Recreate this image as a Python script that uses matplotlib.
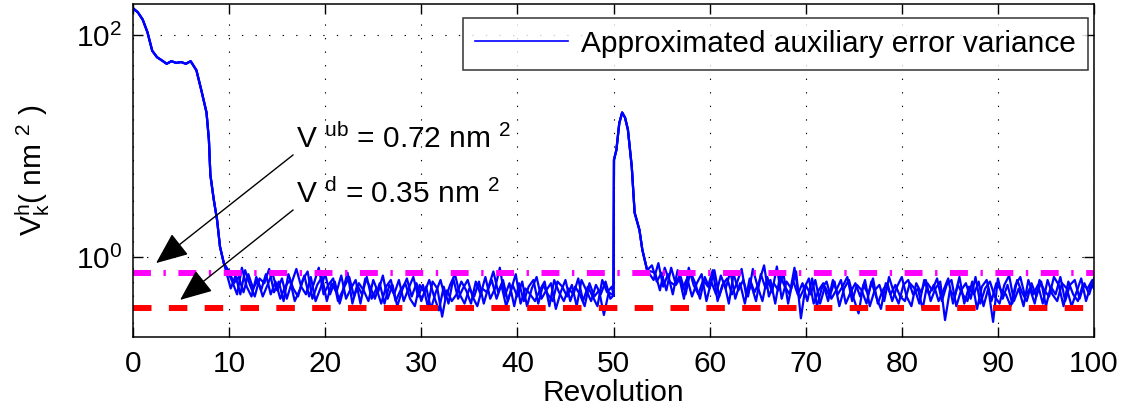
import numpy as np
import matplotlib
matplotlib.use("Agg")
import matplotlib.pyplot as plt
from matplotlib.ticker import NullLocator

FS = 21.5
plt.rcParams['font.family'] = ['Liberation Sans', 'DejaVu Sans']
plt.rcParams['mathtext.fontset'] = 'custom'
plt.rcParams['mathtext.rm'] = 'Liberation Sans'
plt.rcParams['mathtext.it'] = 'Liberation Sans:italic'

# start-up transient (shared by all runs)
rev_start = [0, 0.5, 1.0, 1.5, 2.0, 2.5, 3.0, 3.5, 4.0, 4.5, 5.0, 5.5, 6.0, 6.6, 7.1,
             7.65, 7.9, 8.05, 8.4, 8.75, 9.05, 9.45]
var_start = [174, 160, 138, 106, 72, 63, 59, 55, 58, 56, 57, 55, 58, 48, 32,
             20, 11.3, 5.5, 3.3, 2.15, 1.24, 0.88]

# steady part up to revolution 50, three overlaid runs on staggered grids
rev_mid_1 = np.arange(10.0, 50, 0.5)
rev_mid_2 = np.arange(10.17, 50, 0.5)
rev_mid_3 = np.arange(10.33, 50, 0.5)
var_mid_1 = [0.74, 0.58, 0.66, 0.48, 0.70, 0.52, 0.62, 0.44, 0.56, 0.72,
             0.50, 0.64, 0.42, 0.58, 0.78, 0.54, 0.46, 0.66, 0.40, 0.52,
             0.70, 0.46, 0.60, 0.38, 0.54, 0.66, 0.44, 0.58, 0.50, 0.40,
             0.62, 0.48, 0.68, 0.42, 0.56, 0.36, 0.50, 0.64, 0.44, 0.58,
             0.40, 0.54, 0.34, 0.48, 0.62, 0.42, 0.56, 0.70, 0.46, 0.38,
             0.52, 0.44, 0.60, 0.38, 0.54, 0.74, 0.48, 0.62, 0.40, 0.56,
             0.44, 0.60, 0.36, 0.52, 0.66, 0.42, 0.50, 0.58, 0.34, 0.48,
             0.62, 0.40, 0.54, 0.46, 0.36, 0.58, 0.44, 0.50, 0.30, 0.48]
var_mid_2 = [0.52, 0.68, 0.46, 0.76, 0.56, 0.44, 0.64, 0.58, 0.78, 0.48,
             0.60, 0.40, 0.70, 0.52, 0.44, 0.62, 0.74, 0.42, 0.56, 0.66,
             0.40, 0.58, 0.48, 0.68, 0.42, 0.52, 0.62, 0.38, 0.64, 0.54,
             0.42, 0.58, 0.38, 0.56, 0.46, 0.62, 0.40, 0.52, 0.66, 0.44,
             0.56, 0.36, 0.60, 0.52, 0.29, 0.50, 0.40, 0.46, 0.60, 0.50,
             0.38, 0.60, 0.46, 0.66, 0.42, 0.52, 0.80, 0.44, 0.58, 0.36,
             0.58, 0.40, 0.54, 0.62, 0.38, 0.56, 0.46, 0.40, 0.60, 0.54,
             0.44, 0.56, 0.36, 0.62, 0.50, 0.40, 0.56, 0.46, 0.60, 0.42]
var_mid_3 = [0.60, 0.46, 0.80, 0.54, 0.44, 0.66, 0.50, 0.70, 0.46, 0.60,
             0.42, 0.54, 0.62, 0.40, 0.50, 0.68, 0.44, 0.58, 0.80, 0.46,
             0.56, 0.64, 0.40, 0.50, 0.72, 0.38, 0.56, 0.46, 0.66, 0.42,
             0.52, 0.38, 0.54, 0.62, 0.40, 0.50, 0.58, 0.42, 0.36, 0.56,
             0.48, 0.62, 0.44, 0.33, 0.54, 0.38, 0.64, 0.42, 0.52, 0.62,
             0.44, 0.36, 0.52, 0.48, 0.62, 0.42, 0.56, 0.36, 0.50, 0.70,
             0.38, 0.52, 0.46, 0.40, 0.50, 0.60, 0.36, 0.62, 0.48, 0.40,
             0.52, 0.46, 0.64, 0.40, 0.54, 0.44, 0.36, 0.62, 0.48, 0.54]

# disturbance at revolution 50
rev_peak = [50.0, 50.05, 50.3, 50.6, 50.9, 51.2, 51.5, 51.9, 52.2, 52.7, 53.0, 53.5]
var_peak = [0.45, 7.5, 9.2, 16, 20, 18, 14, 6.5, 2.5, 1.75, 1.16, 0.76]

# steady part after the disturbance
rev_tail_1 = np.arange(54.0, 100.3, 0.5)
rev_tail_2 = np.arange(54.17, 100.4, 0.5)
rev_tail_3 = np.arange(54.33, 100.6, 0.5)
var_tail_1 = [0.84, 0.60, 0.72, 0.50, 0.80, 0.56, 0.66, 0.46, 0.74, 0.58,
              0.42, 0.66, 0.52, 0.76, 0.44, 0.60, 0.38, 0.70, 0.50, 0.62,
              0.44, 0.78, 0.54, 0.40, 0.66, 0.48, 0.82, 0.42, 0.60, 0.52,
              0.74, 0.28, 0.56, 0.46, 0.62, 0.38, 0.54, 0.44, 0.60, 0.36,
              0.52, 0.62, 0.42, 0.31, 0.56, 0.46, 0.64, 0.38, 0.50, 0.58,
              0.40, 0.54, 0.66, 0.44, 0.36, 0.58, 0.48, 0.62, 0.40, 0.52,
              0.60, 0.27, 0.50, 0.44, 0.66, 0.38, 0.54, 0.46, 0.60, 0.36,
              0.52, 0.26, 0.64, 0.42, 0.56, 0.38, 0.62, 0.48, 0.40, 0.58,
              0.44, 0.60, 0.36, 0.54, 0.46, 0.66, 0.40, 0.56, 0.62, 0.42,
              0.58, 0.46, 0.64]
var_tail_2 = [0.62, 0.88, 0.54, 0.70, 0.46, 0.76, 0.52, 0.64, 0.44, 0.58,
              0.70, 0.40, 0.60, 0.46, 0.68, 0.52, 0.74, 0.42, 0.58, 0.38,
              0.64, 0.48, 0.60, 0.84, 0.44, 0.58, 0.50, 0.72, 0.38, 0.62,
              0.46, 0.58, 0.40, 0.64, 0.36, 0.52, 0.60, 0.42, 0.50, 0.62,
              0.38, 0.48, 0.58, 0.44, 0.62, 0.36, 0.50, 0.56, 0.40, 0.66,
              0.48, 0.38, 0.56, 0.62, 0.46, 0.52, 0.34, 0.58, 0.50, 0.64,
              0.40, 0.56, 0.62, 0.36, 0.50, 0.58, 0.42, 0.66, 0.38, 0.52,
              0.60, 0.44, 0.38, 0.56, 0.68, 0.40, 0.52, 0.36, 0.62, 0.46,
              0.56, 0.38, 0.62, 0.46, 0.40, 0.58, 0.52, 0.36, 0.48, 0.64,
              0.40, 0.56, 0.50]
var_tail_3 = [0.72, 0.50, 0.80, 0.60, 0.56, 0.66, 0.42, 0.80, 0.56, 0.46,
              0.62, 0.54, 0.76, 0.40, 0.56, 0.64, 0.46, 0.58, 0.78, 0.44,
              0.56, 0.40, 0.70, 0.52, 0.62, 0.38, 0.68, 0.54, 0.46, 0.80,
              0.42, 0.52, 0.64, 0.38, 0.50, 0.58, 0.40, 0.62, 0.46, 0.54,
              0.66, 0.40, 0.56, 0.50, 0.38, 0.60, 0.44, 0.34, 0.58, 0.46,
              0.56, 0.44, 0.40, 0.58, 0.52, 0.38, 0.62, 0.46, 0.56, 0.40,
              0.50, 0.64, 0.38, 0.56, 0.46, 0.40, 0.60, 0.34, 0.54, 0.62,
              0.40, 0.58, 0.50, 0.46, 0.36, 0.56, 0.66, 0.44, 0.52, 0.38,
              0.62, 0.50, 0.44, 0.66, 0.56, 0.36, 0.60, 0.46, 0.40, 0.56,
              0.52, 0.62, 0.42]

v_ub = 0.72
v_d = 0.35

fig = plt.figure(figsize=(11.29, 4.15), dpi=100)
ax = fig.add_axes([133/1129, 1 - 337/415, (1094 - 133)/1129, (337 - 4)/415])

runs = [(rev_mid_1, var_mid_1, rev_tail_1, var_tail_1),
        (rev_mid_2, var_mid_2, rev_tail_2, var_tail_2),
        (rev_mid_3, var_mid_3, rev_tail_3, var_tail_3)]
for i, (rm, vm, rt, vt) in enumerate(runs):
    rev = np.concatenate([rev_start, rm, rev_peak, rt])
    var = np.concatenate([var_start, vm, var_peak, vt])
    ax.plot(rev, var, color='#0000ff', lw=1.6,
            label='Approximated auxiliary error variance' if i == 0 else None)

ax.plot([0, 100], [v_ub, v_ub], color='#ff00ff', lw=4.3,
        dashes=(3.0, 2.1, 0.4, 2.1), dash_capstyle='butt')
ax.plot([0, 100], [v_d, v_d], color='#ff0000', lw=4.3,
        dashes=(3.1, 2.9), dash_capstyle='butt')

ax.set_yscale('log')
ax.set_xlim(0, 100)
ax.set_ylim(0.19, 190)
ax.set_xticks(np.arange(0, 101, 10))
ax.set_yticks([1, 100])
ax.yaxis.set_minor_locator(NullLocator())
ax.grid(True, color='k', lw=0.8, linestyle=(0, (1.2, 11)))
ax.tick_params(direction='in', length=7, width=1, top=True, right=True, labelsize=FS)
ax.tick_params(axis='x', pad=9)
ax.tick_params(axis='y', pad=8)
for s in ax.spines.values():
    s.set_linewidth(1.1)

ax.set_xlabel('Revolution', fontsize=FS, labelpad=1)
ax.set_ylabel(r'V$\mathregular{_k^h}$( nm $\mathregular{^2}$ )', fontsize=FS, labelpad=17)

ax.text(17.0, 9.6, r'V $\mathregular{^{ub}}$ = 0.72 nm $\mathregular{^2}$', fontsize=FS, va='baseline')
ax.text(17.0, 3.06, r'V $\mathregular{^{d}}$ = 0.35 nm $\mathregular{^2}$', fontsize=FS, va='baseline')

arrow = dict(arrowstyle='-|>,head_length=1.0,head_width=0.42', color='k', lw=1,
             mutation_scale=20, shrinkA=0, shrinkB=0)
ax.annotate('', xy=(2.4, 0.88), xytext=(16.66, 8.3), arrowprops=arrow)
ax.annotate('', xy=(4.9, 0.41), xytext=(16.66, 2.65), arrowprops=arrow)

leg = ax.legend(loc='upper right', bbox_to_anchor=(0.9938, 0.958), fontsize=FS,
                frameon=True, fancybox=False, handlelength=3.1, handletextpad=0.45,
                borderpad=0.4, borderaxespad=0)
leg.get_frame().set_edgecolor('k')
leg.get_frame().set_linewidth(1.1)
leg.get_lines()[0].set_linewidth(1.2)

fig.savefig('out.png', dpi=100)
